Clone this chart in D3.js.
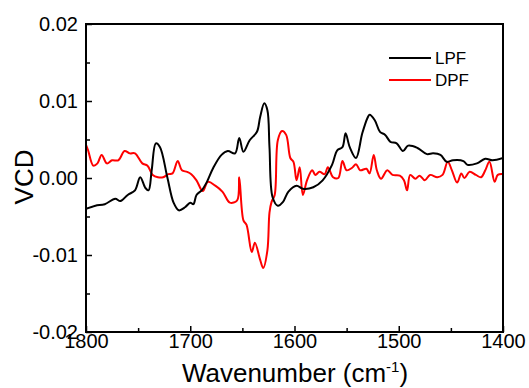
<!DOCTYPE html>
<html>
<head>
<meta charset="utf-8">
<script src="https://cdn.jsdelivr.net/npm/d3@7"></script>
<style>
    body { margin: 0; background: #fff; }
    text { font-family: "Liberation Sans", Arial, sans-serif; fill: #000; }
</style>
</head>
<body>
<div id="chart"></div>
<script>
// wavenumbers (cm-1) and VCD values
var lpfX = [1800, 1791, 1782, 1772, 1767, 1760, 1753, 1748, 1743, 1740, 1737, 1733, 1729, 1722, 1716, 1711, 1705, 1700, 1697, 1694, 1689, 1684, 1678, 1670, 1664, 1657, 1653, 1649, 1643, 1636, 1633, 1629, 1626, 1624, 1621, 1616, 1611, 1606, 1598, 1592, 1582, 1573, 1564, 1559, 1554, 1551, 1547, 1541, 1535, 1530, 1528, 1523, 1518, 1513, 1508, 1502, 1496, 1491, 1482, 1473, 1467, 1460, 1454, 1448, 1438, 1434, 1425, 1417, 1410, 1400];
var lpfY = [-0.0040, -0.0036, -0.0034, -0.0027, -0.0030, -0.0022, -0.0016, 0.0001, -0.0013, -0.0016, 0.0010, 0.0045, 0.0040, 0.0001, -0.0032, -0.0042, -0.0038, -0.0032, -0.0034, -0.0022, -0.0016, -0.0005, 0.0013, 0.0030, 0.0035, 0.0032, 0.0052, 0.0034, 0.0049, 0.0060, 0.0079, 0.0097, 0.0088, 0.0040, -0.0025, -0.0036, -0.0031, -0.0018, -0.0010, -0.0014, -0.0012, -0.0003, 0.0017, 0.0036, 0.0040, 0.0058, 0.0040, 0.0026, 0.0058, 0.0078, 0.0082, 0.0075, 0.0060, 0.0056, 0.0047, 0.0045, 0.0035, 0.0042, 0.0039, 0.0031, 0.0032, 0.0030, 0.0021, 0.0023, 0.0022, 0.0017, 0.0019, 0.0025, 0.0023, 0.0026];

var dpfX = [1800, 1798, 1793, 1789, 1785, 1780, 1775, 1769, 1763, 1758, 1753, 1746, 1741, 1736, 1731, 1726, 1721, 1717, 1712, 1708, 1703, 1699, 1694, 1688, 1683, 1676, 1669, 1662, 1655, 1653, 1649, 1646, 1641, 1638, 1633, 1630, 1626, 1624, 1622, 1619, 1616, 1612, 1608, 1604, 1601, 1598, 1595, 1592, 1588, 1583, 1580, 1576, 1571, 1568, 1563, 1558, 1554, 1550, 1545, 1541, 1537, 1531, 1528, 1524, 1521, 1517, 1511, 1506, 1499, 1495, 1492, 1489, 1484, 1480, 1475, 1470, 1463, 1458, 1453, 1449, 1444, 1440, 1437, 1432, 1426, 1421, 1417, 1413, 1408, 1405, 1400];
var dpfY = [0.0043, 0.0036, 0.0016, 0.0019, 0.0030, 0.0019, 0.0023, 0.0023, 0.0035, 0.0032, 0.0032, 0.0019, 0.0016, 0.0004, 0.0001, 0.0001, 0.0005, 0.0006, 0.0022, 0.0010, 0.0008, 0.0005, -0.0003, -0.0017, -0.0005, -0.0010, -0.0018, -0.0032, -0.0029, 0.0001, -0.0055, -0.0061, -0.0096, -0.0084, -0.0106, -0.0117, -0.0094, -0.0045, -0.0031, -0.0022, 0.0049, 0.0061, 0.0056, 0.0026, 0.0021, -0.0003, 0.0014, -0.0022, -0.0003, 0.0010, 0.0004, 0.0008, 0.0005, 0.0014, 0.0001, 0.0000, 0.0022, 0.0010, 0.0013, 0.0018, 0.0010, 0.0012, 0.0006, 0.0030, 0.0010, -0.0001, 0.0010, 0.0004, 0.0003, -0.0003, -0.0016, 0.0004, -0.0001, 0.0003, -0.0003, 0.0004, 0.0001, 0.0004, 0.0021, 0.0010, -0.0006, 0.0006, 0.0000, 0.0008, 0.0004, 0.0001, 0.0010, 0.0021, -0.0005, 0.0004, 0.0005];

var xTicks = [1800, 1700, 1600, 1500, 1400];
var yTicks = [-0.02, -0.01, 0.00, 0.01, 0.02];
var yTickLabels = ["-0.02", "-0.01", "0.00", "0.01", "0.02"];
var seriesNames = ["LPF", "DPF"];
var seriesColors = ["#000000", "#ff0000"];

var areaWidth = 529, areaHeight = 388;
var plotLeft = 86, plotRight = 503, plotTop = 24, plotBottom = 332;

var svg = d3.select("#chart").append("svg")
    .attr("width", areaWidth)
    .attr("height", areaHeight);

var xScale = d3.scaleLinear().domain([1800, 1400]).range([plotLeft, plotRight]);
var yScale = d3.scaleLinear().domain([-0.02, 0.02]).range([plotBottom, plotTop]);

// index of a major y tick, -1 for minor ones
function majorY(d) {
    return yTicks.findIndex(function(t) { return Math.abs(t - d) < 1e-9; });
}

// clip so the lines stay inside the frame
svg.append("clipPath").attr("id", "plot-clip")
    .append("rect")
    .attr("x", plotLeft).attr("y", plotTop)
    .attr("width", plotRight - plotLeft).attr("height", plotBottom - plotTop);

// draw one series as a line
function drawLine(xs, ys, color) {
    var pts = xs.map(function(d, i) { return [d, ys[i]]; });
    var line = d3.line()
        .x(function(d) { return xScale(d[0]); })
        .y(function(d) { return yScale(d[1]); })
        .curve(d3.curveCatmullRom.alpha(0.5));
    svg.append("path")
        .datum(pts)
        .attr("clip-path", "url(#plot-clip)")
        .attr("d", line)
        .style("fill", "none")
        .style("stroke", color)
        .style("stroke-width", 2)
        .style("stroke-linejoin", "round");
}

drawLine(dpfX, dpfY, seriesColors[1]);
drawLine(lpfX, lpfY, seriesColors[0]);

// bottom axis, ticks pointing inward
var xAxis = d3.axisBottom(xScale)
    .tickValues(d3.range(1800, 1399, -50))
    .tickSizeInner(-6)
    .tickSizeOuter(0)
    .tickFormat(function(d) { return xTicks.includes(d) ? d : ""; });
var gx = svg.append("g").attr("transform", "translate(0," + plotBottom + ")").call(xAxis);
gx.select(".domain").remove();
gx.selectAll(".tick line")
    .attr("y2", function(d) { return xTicks.includes(d) ? -6 : -4; })
    .style("stroke-width", 1.5);
gx.selectAll(".tick text")
    .attr("y", 2)
    .style("font-size", "20px")
    .style("font-family", "Liberation Sans, Arial, sans-serif");

// left axis, ticks pointing inward
var yAxis = d3.axisLeft(yScale)
    .tickValues(d3.range(-0.02, 0.0201, 0.005))
    .tickSizeInner(-6)
    .tickSizeOuter(0)
    .tickFormat(function(d) {
        var k = majorY(d);
        return k >= 0 ? yTickLabels[k] : "";
    });
var gy = svg.append("g").attr("transform", "translate(" + plotLeft + ",0)").call(yAxis);
gy.select(".domain").remove();
gy.selectAll(".tick line")
    .attr("x2", function(d) { return majorY(d) >= 0 ? 6 : 4; })
    .style("stroke-width", 1.5);
gy.selectAll(".tick text")
    .attr("x", -8)
    .style("font-size", "20px")
    .style("font-family", "Liberation Sans, Arial, sans-serif");

// frame
svg.append("rect")
    .attr("x", plotLeft).attr("y", plotTop)
    .attr("width", plotRight - plotLeft).attr("height", plotBottom - plotTop)
    .style("fill", "none")
    .style("stroke", "#000")
    .style("stroke-width", 2);

// axis titles
var xTitle = svg.append("text")
    .attr("x", 295)
    .attr("y", 382)
    .attr("text-anchor", "middle")
    .style("font-size", "26px");
xTitle.append("tspan").text("Wavenumber (cm");
xTitle.append("tspan").attr("dy", -10).style("font-size", "15px").text("-1");
xTitle.append("tspan").attr("dy", 10).text(")");

svg.append("text")
    .attr("transform", "translate(33,177) rotate(-90)")
    .attr("text-anchor", "middle")
    .style("font-size", "26px")
    .text("VCD");

// legend
seriesNames.forEach(function(name, i) {
    var ly = 58 + i * 22;
    svg.append("line")
        .attr("x1", 389).attr("x2", 431)
        .attr("y1", ly).attr("y2", ly)
        .style("stroke", seriesColors[i])
        .style("stroke-width", 2);
    svg.append("text")
        .attr("x", 435)
        .attr("y", ly + 6)
        .style("font-size", "17px")
        .text(name);
});
</script>
</body>
</html>
